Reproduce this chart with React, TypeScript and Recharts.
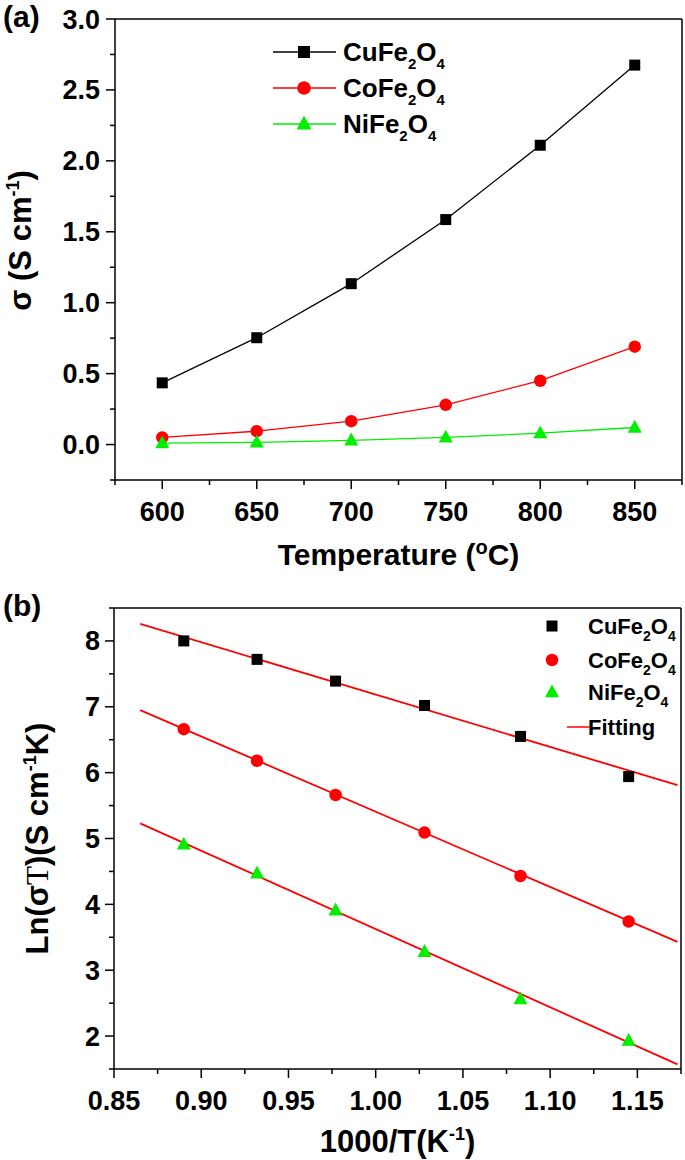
import {
  LineChart,
  Line,
  XAxis,
  YAxis,
  ComposedChart,
  Scatter,
  Legend,
  ReferenceLine,
  Label,
} from "recharts";

const FONT = "'Liberation Sans', Arial, Helvetica, sans-serif";

// ---- panel (a): conductivity vs temperature ----
const temps = [600, 650, 700, 750, 800, 850];
const cuSigma = [0.435, 0.753, 1.134, 1.586, 2.11, 2.675];
const coSigma = [0.05, 0.094, 0.165, 0.28, 0.45, 0.69];
const niSigma = [0.01, 0.015, 0.03, 0.05, 0.08, 0.12];

const tempDomain = [575, 875];
const tempTicks = [575, 600, 625, 650, 675, 700, 725, 750, 775, 800, 825, 850, 875];
const tempMajor = [600, 650, 700, 750, 800, 850];
const sigmaDomain = [-0.25, 3.0];
const sigmaTicks = [-0.25, 0, 0.25, 0.5, 0.75, 1, 1.25, 1.5, 1.75, 2, 2.25, 2.5, 2.75, 3];
const sigmaMajor = [0, 0.5, 1, 1.5, 2, 2.5, 3];

// ---- panel (b): Arrhenius plot ----
const invT = [0.89, 0.932, 0.977, 1.028, 1.083, 1.145];
const cuLn = [8.0, 7.72, 7.39, 7.02, 6.55, 5.94];
const coLn = [6.66, 6.18, 5.66, 5.09, 4.43, 3.74];
const niLn = [4.91, 4.47, 3.91, 3.28, 2.56, 1.93];

const fitX = [0.865, 1.173];
const cuFit = [8.26, 5.81];
const coFit = [6.95, 3.43];
const niFit = [5.23, 1.57];

const invTDomain = [0.85, 1.175];
const invTTicks = [0.85, 0.875, 0.9, 0.925, 0.95, 0.975, 1.0, 1.025, 1.05, 1.075, 1.1, 1.125, 1.15, 1.175];
const invTMajor = [0.85, 0.9, 0.95, 1.0, 1.05, 1.1, 1.15];
const lnDomain = [1.5, 8.5];
const lnTicks = [1.5, 2, 2.5, 3, 3.5, 4, 4.5, 5, 5.5, 6, 6.5, 7, 7.5, 8, 8.5];
const lnMajor = [2, 3, 4, 5, 6, 7, 8];

type Shape = "square" | "circle" | "triangle";

const series = [
  { key: "cu", name: "CuFe2O4", color: "#000000", shape: "square" as Shape },
  { key: "co", name: "CoFe2O4", color: "#ff0000", shape: "circle" as Shape },
  { key: "ni", name: "NiFe2O4", color: "#00ee00", shape: "triangle" as Shape },
];

const dataA = temps.map((t, i) => ({ t, cu: cuSigma[i], co: coSigma[i], ni: niSigma[i] }));
const toPts = (xs: number[], ys: number[]) => xs.map((x, i) => ({ x, y: ys[i] }));

const Marker = ({ cx, cy, shape, color, size }: any) => {
  if (cx == null || cy == null) return null;
  if (shape === "square")
    return <rect x={cx - size / 2} y={cy - size / 2} width={size} height={size} fill={color} />;
  if (shape === "circle") return <circle cx={cx} cy={cy} r={size / 2} fill={color} />;
  const h = size * 0.92;
  return (
    <polygon
      points={`${cx},${cy - h * 0.6} ${cx - size / 2},${cy + h * 0.4} ${cx + size / 2},${cy + h * 0.4}`}
      fill={color}
    />
  );
};

const markerSize = (shape: Shape) => (shape === "square" ? 11 : shape === "circle" ? 12.5 : 14);

const isIn = (arr: number[], v: number) => arr.some((m) => Math.abs(m - v) < 1e-9);

const bottomTick = (major: number[], digits: number, fontSize: number, dy: number) => (p: any) => {
  const v = p.payload.value;
  const big = isIn(major, v);
  return (
    <g>
      <line x1={p.x} x2={p.x} y1={p.y} y2={p.y + (big ? 9 : 5)} stroke="#000" strokeWidth={1.5} />
      {big && (
        <text x={p.x} y={p.y + dy} textAnchor="middle" fontFamily={FONT} fontWeight="bold" fontSize={fontSize} fill="#000">
          {v.toFixed(digits)}
        </text>
      )}
    </g>
  );
};

const leftTick = (major: number[], digits: number, fontSize: number, gap: number) => (p: any) => {
  const v = p.payload.value;
  const big = isIn(major, v);
  return (
    <g>
      <line x1={p.x} x2={p.x - (big ? 9 : 5)} y1={p.y} y2={p.y} stroke="#000" strokeWidth={1.5} />
      {big && (
        <text x={p.x - gap} y={p.y + 9.5} textAnchor="end" fontFamily={FONT} fontWeight="bold" fontSize={fontSize} fill="#000">
          {v.toFixed(digits)}
        </text>
      )}
    </g>
  );
};

// digits become subscripts: CuFe2O4
const formula = (s: string, subSize: number, shift: number) => {
  let down = false;
  return s
    .split(/(\d)/)
    .filter(Boolean)
    .map((tok, i) => {
      if (/\d/.test(tok)) {
        down = true;
        return (
          <tspan key={i} fontSize={subSize} dy={shift}>
            {tok}
          </tspan>
        );
      }
      const dy = down ? -shift : 0;
      down = false;
      return (
        <tspan key={i} dy={dy}>
          {tok}
        </tspan>
      );
    });
};

const legendA = () => (
  <svg width={200} height={115}>
    {series.map((s, i) => {
      const cy = 22 + i * 36;
      return (
        <g key={s.key}>
          <line x1={8} x2={71} y1={cy} y2={cy} stroke={s.color} strokeWidth={1.3} />
          <Marker cx={39} cy={cy} shape={s.shape} color={s.color} size={markerSize(s.shape) + 1} />
          <text x={78} y={cy + 9} fontFamily={FONT} fontWeight="bold" fontSize={26} fill="#000">
            {formula(s.name, 15, 8)}
          </text>
        </g>
      );
    })}
  </svg>
);

const legendB = () => (
  <svg width={150} height={140}>
    {series.map((s, i) => {
      const cy = [21, 55, 87][i];
      return (
        <g key={s.key}>
          <Marker cx={17} cy={cy} shape={s.shape} color={s.color} size={markerSize(s.shape)} />
          <text x={53} y={cy + 7.5} fontFamily={FONT} fontWeight="bold" fontSize={22} fill="#000">
            {formula(s.name, 14, 7)}
          </text>
        </g>
      );
    })}
    <line x1={32} x2={57} y1={122} y2={122} stroke="#ff0000" strokeWidth={1.5} />
    <text x={53} y={129.5} fontFamily={FONT} fontWeight="bold" fontSize={22} fill="#000">
      Fitting
    </text>
  </svg>
);

const titleStyle = { fontFamily: FONT, fontWeight: "bold" as const, fill: "#000" };

const App = () => {
  return (
    <div style={{ position: "absolute", left: 0, top: 0, width: 685, height: 1160, background: "#fff" }}>
      <div style={{ position: "absolute", left: 3, top: 2, font: `bold 30px ${FONT}`, lineHeight: "30px" }}>(a)</div>
      <div style={{ position: "absolute", left: 3, top: 591, font: `bold 30px ${FONT}`, lineHeight: "30px" }}>(b)</div>

      <div style={{ position: "absolute", left: 0, top: 0 }}>
        <LineChart width={685} height={580} data={dataA} margin={{ top: 19, right: 3, bottom: 0, left: 0 }}>
          <XAxis
            dataKey="t"
            type="number"
            domain={tempDomain}
            ticks={tempTicks}
            interval={0}
            allowDataOverflow
            height={100}
            tickSize={0}
            tickMargin={0}
            tickLine={false}
            axisLine={{ stroke: "#000", strokeWidth: 1.5 }}
            tick={bottomTick(tempMajor, 0, 27, 40.5)}
          >
            <Label
              content={(p: any) => {
                const vb = p.viewBox || { x: 115, y: 480, width: 567 };
                return (
                  <text x={vb.x + vb.width / 2} y={vb.y + 85} textAnchor="middle" fontSize={30} {...titleStyle}>
                    Temperature (<tspan fontSize={20} dy={-11}>o</tspan>
                    <tspan dy={11}>C)</tspan>
                  </text>
                );
              }}
            />
          </XAxis>
          <YAxis
            type="number"
            domain={sigmaDomain}
            ticks={sigmaTicks}
            interval={0}
            allowDataOverflow
            width={115}
            tickSize={0}
            tickMargin={0}
            tickLine={false}
            axisLine={{ stroke: "#000", strokeWidth: 1.5 }}
            tick={leftTick(sigmaMajor, 1, 27, 15)}
          >
            <Label
              content={(p: any) => {
                const vb = p.viewBox || { y: 19, height: 461 };
                const cy = vb.y + vb.height / 2 - 9;
                return (
                  <text x={30.5} y={cy} textAnchor="middle" fontSize={31} transform={`rotate(-90, 30.5, ${cy})`} {...titleStyle}>
                    σ (S cm<tspan fontSize={18} dy={-12}>-1</tspan>
                    <tspan dy={12}>)</tspan>
                  </text>
                );
              }}
            />
          </YAxis>
          <ReferenceLine y={sigmaDomain[1]} stroke="#000" strokeWidth={1.5} />
          <ReferenceLine x={tempDomain[1]} stroke="#000" strokeWidth={1.5} />
          {series.map((s) => (
            <Line
              key={s.key}
              dataKey={s.key}
              type="linear"
              stroke={s.color}
              strokeWidth={1.3}
              isAnimationActive={false}
              dot={(p: any) => (
                <Marker key={`${s.key}-${p.index}`} cx={p.cx} cy={p.cy} shape={s.shape} color={s.color} size={markerSize(s.shape)} />
              )}
              activeDot={false}
            />
          ))}
          <Legend
            layout="vertical"
            align="center"
            verticalAlign="middle"
            content={legendA}
            wrapperStyle={{ left: 265, top: 30, width: 200, height: 115 }}
          />
        </LineChart>
      </div>

      <div style={{ position: "absolute", left: 0, top: 580 }}>
        <ComposedChart width={685} height={580} margin={{ top: 28, right: 4, bottom: 0, left: 0 }}>
          <XAxis
            dataKey="x"
            type="number"
            domain={invTDomain}
            ticks={invTTicks}
            interval={0}
            allowDataOverflow
            height={91}
            tickSize={0}
            tickMargin={0}
            tickLine={false}
            axisLine={{ stroke: "#000", strokeWidth: 1.5 }}
            tick={bottomTick(invTMajor, 2, 27, 41)}
          >
            <Label
              content={(p: any) => {
                const vb = p.viewBox || { x: 114, y: 489, width: 567 };
                return (
                  <text x={vb.x + vb.width / 2} y={vb.y + 83} textAnchor="middle" fontSize={31} {...titleStyle}>
                    1000/T(K<tspan fontSize={18} dy={-12}>-1</tspan>
                    <tspan dy={12}>)</tspan>
                  </text>
                );
              }}
            />
          </XAxis>
          <YAxis
            type="number"
            domain={lnDomain}
            ticks={lnTicks}
            interval={0}
            allowDataOverflow
            width={114}
            tickSize={0}
            tickMargin={0}
            tickLine={false}
            axisLine={{ stroke: "#000", strokeWidth: 1.5 }}
            tick={leftTick(lnMajor, 0, 27, 14)}
          >
            <Label
              content={(p: any) => {
                const vb = p.viewBox || { y: 28, height: 461 };
                const cy = vb.y + vb.height / 2;
                return (
                  <text x={48} y={cy} textAnchor="middle" fontSize={31} transform={`rotate(-90, 48, ${cy})`} {...titleStyle}>
                    Ln(σ<tspan fontFamily="'Liberation Serif', serif" fontWeight="normal">T</tspan>)(S cm
                    <tspan fontSize={18} dy={-12}>-1</tspan>
                    <tspan dy={12}>K)</tspan>
                  </text>
                );
              }}
            />
          </YAxis>
          <ReferenceLine y={lnDomain[1]} stroke="#000" strokeWidth={1.5} />
          <ReferenceLine x={invTDomain[1]} stroke="#000" strokeWidth={1.5} />
          <Line data={toPts(fitX, cuFit)} dataKey="y" type="linear" stroke="#ff0000" strokeWidth={1.8} dot={false} activeDot={false} isAnimationActive={false} />
          <Line data={toPts(fitX, coFit)} dataKey="y" type="linear" stroke="#ff0000" strokeWidth={1.8} dot={false} activeDot={false} isAnimationActive={false} />
          <Line data={toPts(fitX, niFit)} dataKey="y" type="linear" stroke="#ff0000" strokeWidth={1.8} dot={false} activeDot={false} isAnimationActive={false} />
          {[cuLn, coLn, niLn].map((ys, i) => {
            const s = series[i];
            return (
              <Scatter
                key={s.key}
                data={toPts(invT, ys)}
                dataKey="y"
                isAnimationActive={false}
                shape={(p: any) => <Marker cx={p.cx} cy={p.cy} shape={s.shape} color={s.color} size={markerSize(s.shape)} />}
              />
            );
          })}
          <Legend
            layout="vertical"
            align="center"
            verticalAlign="middle"
            content={legendB}
            wrapperStyle={{ left: 535, top: 25, width: 150, height: 140 }}
          />
        </ComposedChart>
      </div>
    </div>
  );
};

export default App;
